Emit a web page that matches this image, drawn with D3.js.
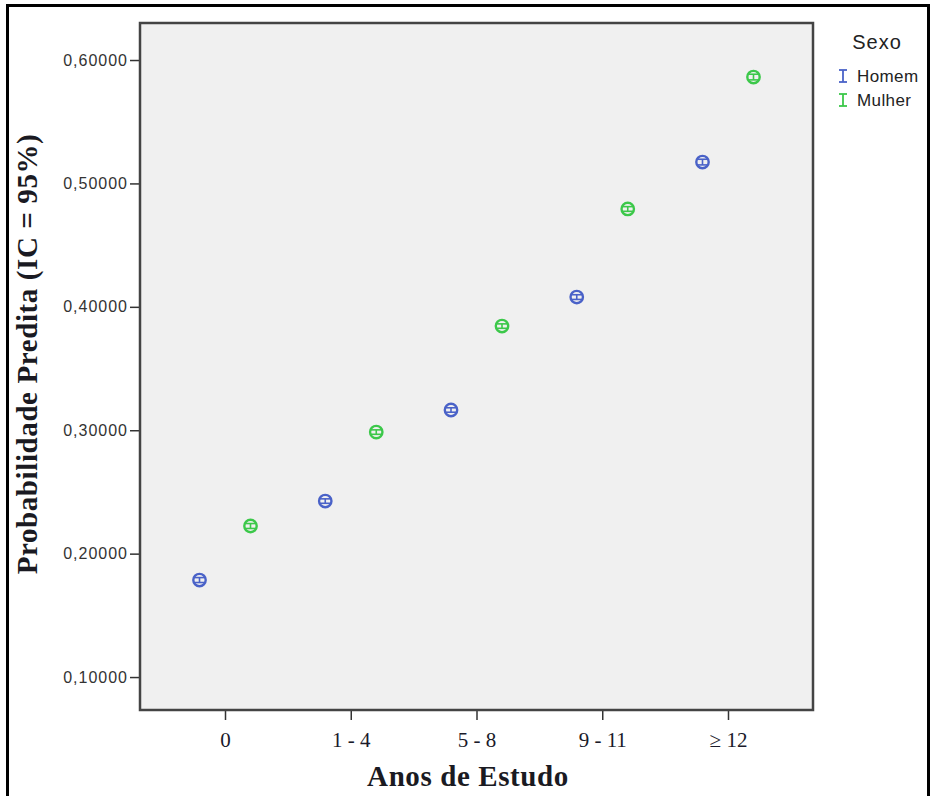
<!DOCTYPE html>
<html>
<head>
<meta charset="utf-8">
<script src="https://cdn.jsdelivr.net/npm/d3@7"></script>
<style>
  html, body { margin: 0; padding: 0; background: #fff; }
  svg { display: block; }
</style>
</head>
<body>
<svg id="chart" width="931" height="796"></svg>
<script>
// Categories (years of schooling) and groups
const categories = ["0", "1 - 4", "5 - 8", "9 - 11", "\u2265 12"];
const groups = ["Homem", "Mulher"];

// Predicted probability and 95% CI bounds per group
const homemValues = [0.1786, 0.2426, 0.3164, 0.4079, 0.5173];
const homemLower  = [0.1766, 0.2408, 0.3146, 0.4060, 0.5150];
const homemUpper  = [0.1806, 0.2444, 0.3182, 0.4098, 0.5196];

const mulherValues = [0.2224, 0.2985, 0.3844, 0.4793, 0.5862];
const mulherLower  = [0.2204, 0.2967, 0.3826, 0.4774, 0.5839];
const mulherUpper  = [0.2244, 0.3003, 0.3862, 0.4812, 0.5885];

const yTicks = [0.1, 0.2, 0.3, 0.4, 0.5, 0.6];

const colors = { Homem: "#4a62c8", Mulher: "#3cc84a" };

const series = [
  { name: "Homem", values: homemValues, lower: homemLower, upper: homemUpper },
  { name: "Mulher", values: mulherValues, lower: mulherLower, upper: mulherUpper }
];

const svg = d3.select("#chart");

// Outer frame
svg.append("rect")
  .attr("x", 7.5).attr("y", 5.5)
  .attr("width", 921).attr("height", 800)
  .attr("fill", "none").attr("stroke", "#000").attr("stroke-width", 3);

const plot = { left: 140, top: 23, right: 813, bottom: 710 };

const x = d3.scalePoint()
  .domain(categories)
  .range([plot.left, plot.right])
  .padding(0.676);

const offset = d3.scalePoint()
  .domain(groups)
  .range([-25.5, 25.5]);

const y = d3.scaleLinear()
  .domain([0.0733, 0.6300])
  .range([plot.bottom, plot.top]);

// Plot background
svg.append("rect")
  .attr("x", plot.left).attr("y", plot.top)
  .attr("width", plot.right - plot.left).attr("height", plot.bottom - plot.top)
  .attr("fill", "#f0f0f0");

// Axes
const yAxis = d3.axisLeft(y)
  .tickValues(yTicks)
  .tickSize(10)
  .tickPadding(2)
  .tickFormat(d => d3.format(".5f")(d).replace(".", ","));

const gy = svg.append("g")
  .attr("transform", `translate(${plot.left},0)`)
  .call(yAxis);
gy.select(".domain").remove();
gy.selectAll(".tick line").attr("stroke", "#333").attr("stroke-width", 1.5);
gy.selectAll(".tick text")
  .attr("font-family", "Arial, 'Liberation Sans', sans-serif")
  .attr("font-size", 16)
  .attr("letter-spacing", 1)
  .attr("fill", "#333");

const xAxis = d3.axisBottom(x).tickSize(10).tickPadding(12);
const gx = svg.append("g")
  .attr("transform", `translate(0,${plot.bottom})`)
  .call(xAxis);
gx.select(".domain").remove();
gx.selectAll(".tick line").attr("stroke", "#333").attr("stroke-width", 1.5);
gx.selectAll(".tick text")
  .attr("font-family", "'Liberation Serif', 'Times New Roman', serif")
  .attr("font-size", 21)
  .attr("fill", "#1a1a2a");

// Plot border
svg.append("rect")
  .attr("x", plot.left).attr("y", plot.top)
  .attr("width", plot.right - plot.left).attr("height", plot.bottom - plot.top)
  .attr("fill", "none").attr("stroke", "#444").attr("stroke-width", 2.5);

// Point markers with 95% CI error bars
series.forEach(s => {
  const g = svg.append("g").attr("class", "series-" + s.name);
  const col = colors[s.name];
  categories.forEach((c, i) => {
    const cx = x(c) + offset(s.name);
    const cy = y(s.values[i]);
    const yl = y(s.lower[i]);
    const yu = y(s.upper[i]);
    g.append("circle")
      .attr("cx", cx).attr("cy", cy).attr("r", 6.2)
      .attr("fill", "none").attr("stroke", col).attr("stroke-width", 2.4);
    g.append("line")
      .attr("x1", cx).attr("x2", cx).attr("y1", yl).attr("y2", yu)
      .attr("stroke", col).attr("stroke-width", 1.6);
    [yl, yu].forEach(yy => {
      g.append("line")
        .attr("x1", cx - 5.5).attr("x2", cx + 5.5).attr("y1", yy).attr("y2", yy)
        .attr("stroke", col).attr("stroke-width", 1.6);
    });
  });
});

// Axis titles
svg.append("text")
  .attr("transform", "translate(37,354) rotate(-90)")
  .attr("text-anchor", "middle")
  .attr("font-family", "'Liberation Serif', 'Times New Roman', serif")
  .attr("font-weight", "bold")
  .attr("font-size", 29)
  .attr("letter-spacing", 0.6)
  .attr("fill", "#1a1a22")
  .text("Probabilidade Predita (IC = 95%)");

svg.append("text")
  .attr("x", 468).attr("y", 786)
  .attr("text-anchor", "middle")
  .attr("font-family", "'Liberation Serif', 'Times New Roman', serif")
  .attr("font-weight", "bold")
  .attr("font-size", 29)
  .attr("letter-spacing", 0.6)
  .attr("fill", "#1a1a22")
  .text("Anos de Estudo");

// Legend
const legend = svg.append("g");
legend.append("text")
  .attr("x", 877).attr("y", 49)
  .attr("text-anchor", "middle")
  .attr("font-family", "Arial, 'Liberation Sans', sans-serif")
  .attr("font-size", 20)
  .attr("letter-spacing", 1)
  .attr("fill", "#222")
  .text("Sexo");

groups.forEach((name, i) => {
  const ly = 76 + i * 24;
  const col = colors[name];
  const gx0 = 843;
  legend.append("line").attr("x1", gx0).attr("x2", gx0).attr("y1", ly - 6).attr("y2", ly + 6)
    .attr("stroke", col).attr("stroke-width", 1.8);
  [ly - 6, ly + 6].forEach(yy => legend.append("line")
    .attr("x1", gx0 - 4).attr("x2", gx0 + 4).attr("y1", yy).attr("y2", yy)
    .attr("stroke", col).attr("stroke-width", 1.8));
  legend.append("text")
    .attr("x", 857).attr("y", ly + 6)
    .attr("font-family", "Arial, 'Liberation Sans', sans-serif")
    .attr("font-size", 17)
    .attr("letter-spacing", 0.4)
    .attr("fill", "#222")
    .text(name);
});
</script>
</body>
</html>
